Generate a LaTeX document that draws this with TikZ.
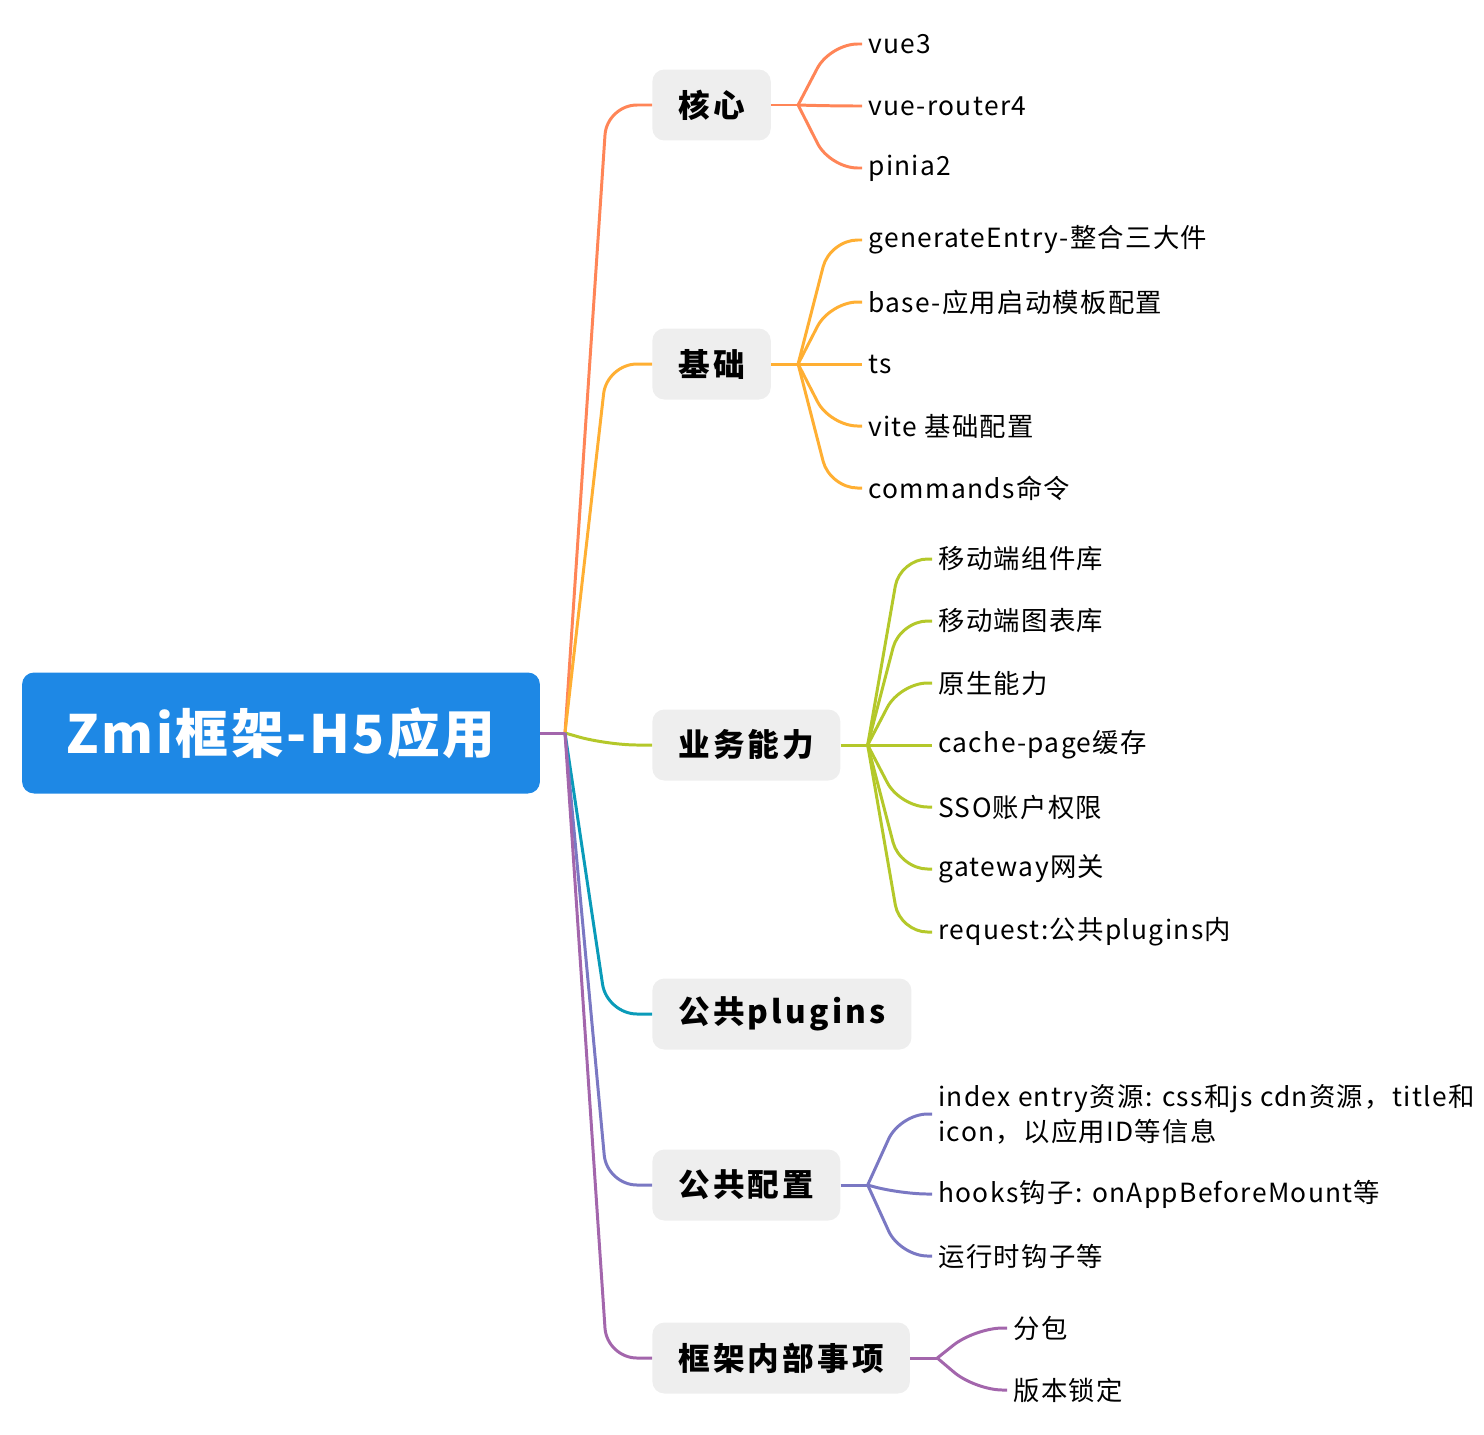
\documentclass[tikz,border=0pt]{standalone}
\usepackage{fontspec}
\setmainfont{Noto Sans CJK SC}[LetterSpace=5]
\newfontfamily\topicfont{Noto Sans CJK SC}[LetterSpace=10]
\newfontfamily\rootfont{Noto Sans CJK SC}[LetterSpace=5]
\usetikzlibrary{calc}
\definecolor{cRoot}{HTML}{1E88E5}
\definecolor{cBox}{HTML}{EEEEEE}
\definecolor{cHx}{HTML}{FF8557}
\definecolor{cJc}{HTML}{FFAF33}
\definecolor{cYw}{HTML}{B4C82A}
\definecolor{cGp}{HTML}{0A9BB9}
\definecolor{cGc}{HTML}{7A78C3}
\definecolor{cKj}{HTML}{A366AC}
\tikzset{
  root/.style={fill=cRoot,text=white,rounded corners=0.24cm,minimum width=10.36cm,
    minimum height=2.42cm,font=\rootfont\fontsize{30}{35}\selectfont\bfseries},
  topic/.style={fill=cBox,rounded corners=0.24cm,anchor=west,minimum height=1.42cm,
    inner xsep=0.52cm,font=\topicfont\fontsize{18}{22}\selectfont\bfseries},
  leaf/.style={anchor=west,inner xsep=0.12cm,inner ysep=0pt,align=left,
    font=\fontsize{15}{19.8}\selectfont},
  link/.style={line width=1.7pt,rounded corners=0.6cm},
  twig/.style={line width=1.7pt,rounded corners=0.55cm}
}
\begin{document}
\begin{tikzpicture}[x=0.02cm,y=-0.02cm]
  \useasboundingbox (0,0) rectangle (1484,1434);
  \node[root] (zmi) at (281,733) {Zmi框架-H5应用};
  \coordinate (rj) at (565,733);
  % topics
  \node[topic] (hx) at (652,105) {核心};
  \node[topic] (jc) at (652,364) {基础};
  \node[topic] (yw) at (652,745) {业务能力};
  \node[topic] (gp) at (652,1014) {公共plugins};
  \node[topic] (gc) at (652,1185) {公共配置};
  \node[topic] (kj) at (652,1358) {框架内部事项};
  \foreach \n/\c in {hx/cHx,jc/cJc,yw/cYw,gp/cGp,gc/cGc,kj/cKj}
    \draw[link,\c] (rj) -- ($(\n.west)+(-45,0)$) -- (\n.west);
  \draw[link,cKj] (zmi.east) -- (rj);
  % junctions
  \foreach \n/\c in {hx/cHx,jc/cJc,yw/cYw,gc/cGc,kj/cKj} {
    \coordinate (\n j) at ($(\n.east)+(27,0)$);
    \draw[twig,\c] (\n.east) -- (\n j);
  }
  % leaves
  \foreach \y/\t [count=\i] in {44/vue3,106/vue-router4,168/pinia2} {
    \node[leaf] (hx\i) at (862,\y) {\t};
    \draw[twig,cHx] (hxj) -- ($(hx\i.west)+(-32,0)$) -- (hx\i.west);
  }
  \foreach \y/\t [count=\i] in {240/generateEntry-整合三大件,302/base-应用启动模板配置,
      364/ts,426/vite 基础配置,488/commands命令} {
    \node[leaf] (jc\i) at (862,\y) {\t};
    \draw[twig,cJc] (jcj) -- ($(jc\i.west)+(-32,0)$) -- (jc\i.west);
  }
  \foreach \y/\t [count=\i] in {559/移动端组件库,621/移动端图表库,683/原生能力,
      745/cache-page缓存,807/SSO账户权限,869/gateway网关,932/request:公共plugins内} {
    \node[leaf] (yw\i) at (932,\y) {\t};
    \draw[twig,cYw] (ywj) -- ($(yw\i.west)+(-32,0)$) -- (yw\i.west);
  }
  \foreach \y/\t [count=\i] in {1114/{index entry资源: css和js cdn资源，title和\\icon，以应用ID等信息},
      1194/hooks钩子: onAppBeforeMount等,1256/运行时钩子等} {
    \node[leaf] (gc\i) at (932,\y) {\t};
    \draw[twig,cGc] (gcj) -- ($(gc\i.west)+(-32,0)$) -- (gc\i.west);
  }
  \foreach \y/\t [count=\i] in {1328/分包,1390/版本锁定} {
    \node[leaf] (kj\i) at (1007,\y) {\t};
    \draw[twig,cKj] (kjj) -- ($(kj\i.west)+(-32,0)$) -- (kj\i.west);
  }
\end{tikzpicture}
\end{document}
